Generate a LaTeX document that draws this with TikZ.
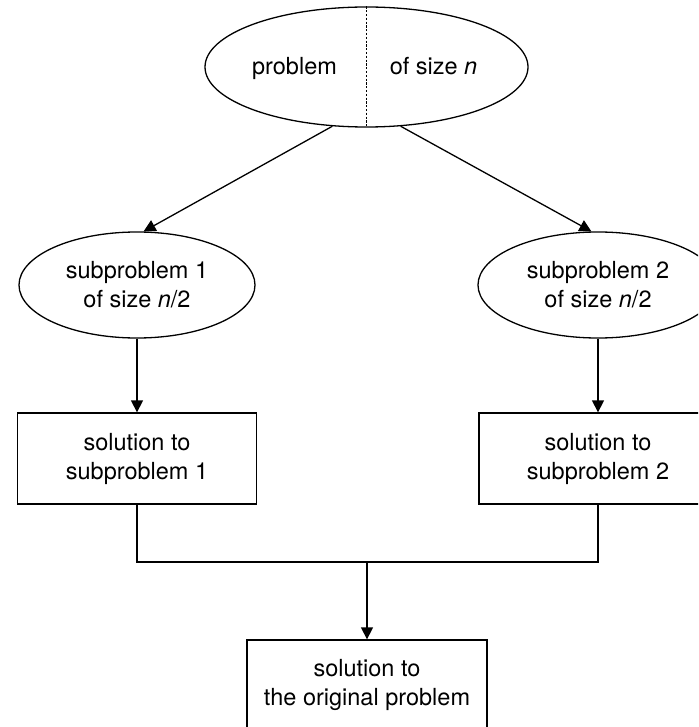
\documentclass[tikz,border=0pt]{standalone}
\usepackage{fontspec}
\setmainfont{TeX Gyre Heros}
\usetikzlibrary{shapes.geometric,arrows.meta}
\tikzset{
  lbl/.style={font=\fontsize{23.5}{29}\selectfont, text=black},
  oval/.style={draw, ellipse, line width=1.3pt, inner sep=0pt, align=center, lbl},
  sbox/.style={draw, rectangle, line width=1.3pt, inner sep=0pt, align=center, lbl},
  conn/.style={line width=1.3pt},
  arr/.style={conn, -{Triangle[length=12pt,width=12pt]}},
}
\begin{document}
\begin{tikzpicture}[x=1pt,y=-1pt]
\useasboundingbox (0,0) rectangle (698,727);
\clip (0,0) rectangle (698,727);
% top ellipse
\node[oval, minimum width=323pt, minimum height=120pt] (top) at (366.5,67) {};
\draw[line width=1pt, dash pattern=on 2.2pt off 1.6pt] (top.north) -- (top.south);
\node[lbl, anchor=base] (tl) at (294.5,75) {problem};
\node[lbl, anchor=base] (tr) at (433.5,75) {of size \textit{n}};
% sub ellipses
\node[oval, minimum width=236pt, minimum height=106pt] (sub1) at (137,285) {subproblem 1\\of size \textit{n}/2};
\node[oval, minimum width=240pt, minimum height=106pt] (sub2) at (598,285) {subproblem 2\\of size \textit{n}/2};
% solution boxes
\node[sbox, minimum width=239pt, minimum height=91pt] (sol1) at (137,458.5) {solution to\\subproblem 1};
\node[sbox, minimum width=238pt, minimum height=91pt] (sol2) at (598,458.5) {solution to\\subproblem 2};
\node[sbox, minimum width=240pt, minimum height=89pt] (final) at (367,684.5) {solution to\\the original problem};
\coordinate (join) at (367,562);
% connectors
\draw[arr] (top.240) -- (sub1.83);
\draw[arr] (top.300) -- (sub2.97);
\draw[arr] (sub1.south) -- (sub1.south |- sol1.north);
\draw[arr] (sub2.south) -- (sub2.south |- sol2.north);
\draw[conn] (sol1.south) |- (join) -| (sol2.south);
\draw[arr] (join) -- (final.north);
\end{tikzpicture}
\end{document}
